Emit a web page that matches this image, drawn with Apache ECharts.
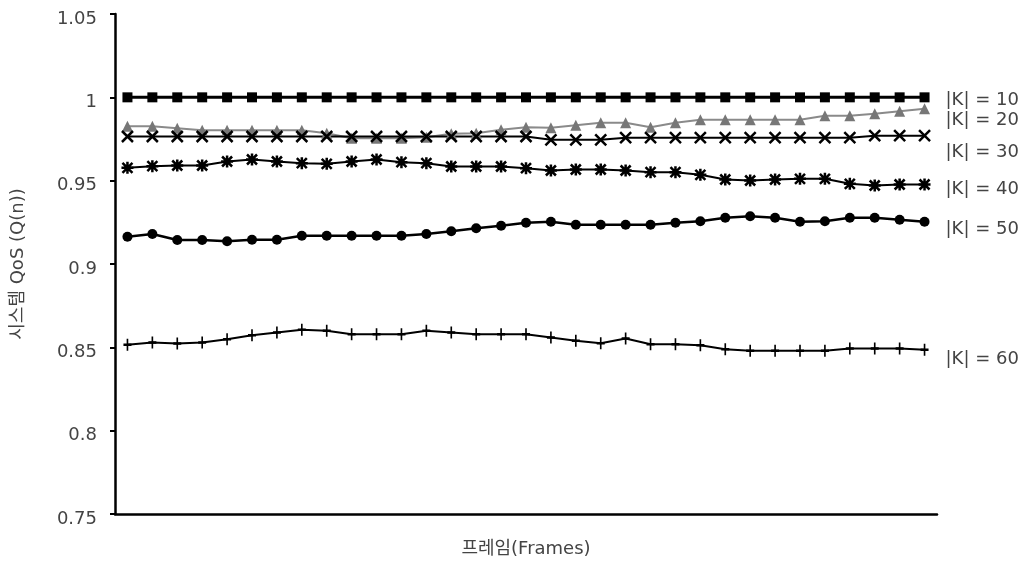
<!DOCTYPE html>
<html>
<head>
<meta charset="utf-8">
<script src="https://cdn.jsdelivr.net/npm/echarts@6/dist/echarts.min.js"></script>
<style>
  html, body { margin: 0; padding: 0; background: #fff; }
  #chart { width: 1035px; height: 563px; }
</style>
</head>
<body>
<div id="chart"></div>
<script>
// Frame indices (33 frames, no tick labels drawn)
const frames = Array.from({ length: 33 }, (_, i) => String(i + 1));

const seriesNames = ['|K| = 10', '|K| = 20', '|K| = 30', '|K| = 40', '|K| = 50', '|K| = 60'];

const qosK10 = [1, 1, 1, 1, 1, 1, 1, 1, 1, 1, 1, 1, 1, 1, 1, 1, 1,
                1, 1, 1, 1, 1, 1, 1, 1, 1, 1, 1, 1, 1, 1, 1, 1];
const qosK20 = [0.9826, 0.9826, 0.9815, 0.9802, 0.9802, 0.9802, 0.9802, 0.9802, 0.9785, 0.9755, 0.9755,
                0.9755, 0.9761, 0.9782, 0.9785, 0.9806, 0.9821, 0.9818, 0.9832, 0.9848, 0.9848, 0.9821,
                0.9848, 0.9866, 0.9866, 0.9866, 0.9866, 0.9866, 0.9890, 0.9890, 0.9902, 0.9916, 0.9932];
const qosK30 = [0.9765, 0.9765, 0.9765, 0.9765, 0.9765, 0.9765, 0.9765, 0.9765, 0.9765, 0.9765, 0.9765,
                0.9765, 0.9765, 0.9765, 0.9765, 0.9765, 0.9765, 0.9745, 0.9745, 0.9745, 0.9758, 0.9758,
                0.9758, 0.9758, 0.9758, 0.9758, 0.9758, 0.9758, 0.9758, 0.9758, 0.9770, 0.9770, 0.9770];
const qosK40 = [0.9577, 0.9587, 0.9591, 0.9591, 0.9615, 0.9627, 0.9615, 0.9605, 0.9601, 0.9615, 0.9627,
                0.9611, 0.9605, 0.9585, 0.9585, 0.9585, 0.9575, 0.9561, 0.9567, 0.9567, 0.9561, 0.9551,
                0.9551, 0.9535, 0.9507, 0.9501, 0.9507, 0.9511, 0.9511, 0.9481, 0.9471, 0.9477, 0.9477];
const qosK50 = [0.9164, 0.9180, 0.9144, 0.9144, 0.9136, 0.9146, 0.9146, 0.9170, 0.9170, 0.9170, 0.9170,
                0.9170, 0.9180, 0.9196, 0.9214, 0.9230, 0.9247, 0.9254, 0.9236, 0.9236, 0.9236, 0.9236,
                0.9247, 0.9256, 0.9277, 0.9286, 0.9277, 0.9254, 0.9256, 0.9277, 0.9277, 0.9265, 0.9254];
const qosK60 = [0.8515, 0.8529, 0.8523, 0.8529, 0.8549, 0.8573, 0.8589, 0.8605, 0.8599, 0.8579, 0.8579,
                0.8579, 0.8599, 0.8589, 0.8579, 0.8579, 0.8579, 0.8559, 0.8539, 0.8525, 0.8553, 0.8519,
                0.8519, 0.8513, 0.8489, 0.8479, 0.8479, 0.8479, 0.8479, 0.8493, 0.8493, 0.8493, 0.8485];

const yMin = 0.75, yMax = 1.05, yStep = 0.05;

const FONT = '"DejaVu Sans", "Noto Sans CJK KR", sans-serif';
const TEXT = '#444';

// Stroke-only marker outlines
const SYM_X = 'path://M0,0 L10,10 M10,0 L0,10';
const SYM_STAR = 'path://M1,1 L11,11 M11,1 L1,11 M6,0 L6,12 M0,6 L12,6';
const SYM_PLUS = 'path://M5,0 L5,12 M1,6 L9,6';

function lineSeries(name, data, opts) {
  return {
    name: name,
    type: 'line',
    data: data,
    symbol: opts.symbol,
    symbolSize: opts.symbolSize,
    showAllSymbol: true,
    lineStyle: { color: opts.lineColor, width: opts.lineWidth },
    itemStyle: opts.itemStyle,
    emphasis: { disabled: true },
    endLabel: {
      show: true,
      formatter: name,
      distance: 0,
      offset: [21, opts.labelDy],
      align: 'left',
      verticalAlign: 'middle',
      color: TEXT,
      fontFamily: FONT,
      fontSize: 18
    },
    z: opts.z || 2
  };
}

const chart = echarts.init(document.getElementById('chart'), null, { renderer: 'canvas' });

chart.setOption({
  animation: false,
  backgroundColor: '#fff',
  grid: { left: 115, right: 98, top: 14, bottom: 49, containLabel: false, outerBoundsMode: 'none' },
  xAxis: {
    type: 'category',
    data: frames,
    boundaryGap: true,
    name: '프레임(Frames)',
    nameLocation: 'middle',
    nameGap: 26,
    nameTextStyle: { color: TEXT, fontFamily: FONT, fontSize: 18 },
    axisLine: { lineStyle: { color: '#000', width: 2.5 } },
    axisTick: { show: false },
    axisLabel: { show: false },
    splitLine: { show: false }
  },
  yAxis: {
    type: 'value',
    min: yMin,
    max: yMax,
    interval: yStep,
    name: '시스템 QoS (Q(n))',
    nameLocation: 'middle',
    nameGap: 88,
    nameRotate: 90,
    nameTextStyle: { color: TEXT, fontFamily: FONT, fontSize: 18 },
    axisLine: { show: true, lineStyle: { color: '#000', width: 2.5 } },
    axisTick: { show: true, length: 5, lineStyle: { color: '#000', width: 2 } },
    axisLabel: {
      color: TEXT, fontFamily: FONT, fontSize: 18, margin: 18,
      verticalAlign: 'top', lineHeight: 10
    },
    splitLine: { show: false }
  },
  series: [
    lineSeries(seriesNames[0], qosK10, {
      symbol: 'rect', symbolSize: 10, lineColor: '#000', lineWidth: 3,
      itemStyle: { color: '#000' }, labelDy: 3
    }),
    lineSeries(seriesNames[1], qosK20, {
      symbol: 'triangle', symbolSize: 11, lineColor: '#8a8a8a', lineWidth: 2,
      itemStyle: { color: '#777' }, labelDy: 12
    }),
    lineSeries(seriesNames[2], qosK30, {
      symbol: SYM_X, symbolSize: 11, lineColor: '#000', lineWidth: 2,
      itemStyle: { color: '#000', borderColor: '#000', borderWidth: 2.5 }, labelDy: 17
    }),
    lineSeries(seriesNames[3], qosK40, {
      symbol: SYM_STAR, symbolSize: 12, lineColor: '#000', lineWidth: 2,
      itemStyle: { color: '#000', borderColor: '#000', borderWidth: 2.5 }, labelDy: 5
    }),
    lineSeries(seriesNames[4], qosK50, {
      symbol: 'circle', symbolSize: 10, lineColor: '#000', lineWidth: 2.5,
      itemStyle: { color: '#000' }, labelDy: 8
    }),
    lineSeries(seriesNames[5], qosK60, {
      symbol: SYM_PLUS, symbolSize: [8, 12], lineColor: '#000', lineWidth: 2,
      itemStyle: { color: '#000', borderColor: '#000', borderWidth: 2 }, labelDy: 9
    })
  ]
});
</script>
</body>
</html>
